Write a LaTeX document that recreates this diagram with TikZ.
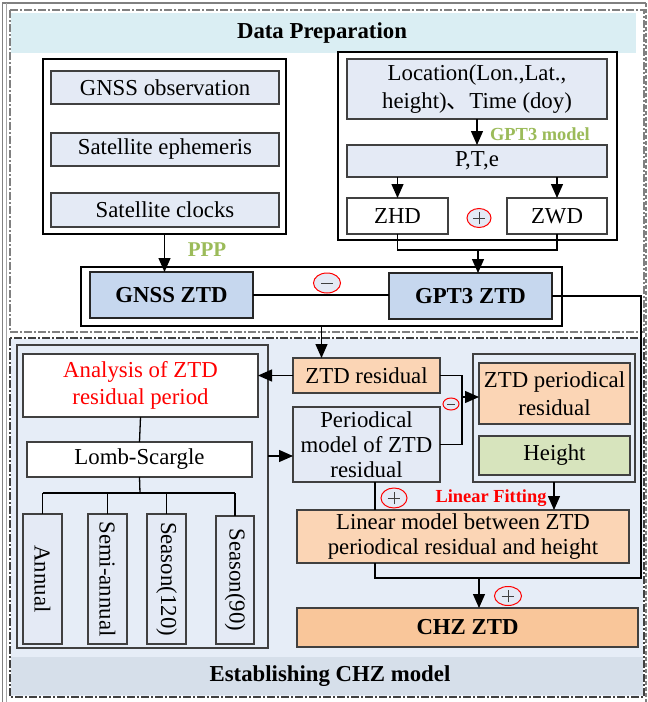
\documentclass[tikz,border=0pt]{standalone}
\usepackage{fontspec}
\setmainfont{Liberation Serif}
\newfontfamily\cjk{Noto Sans CJK SC}
\usetikzlibrary{arrows.meta,calc,shapes.geometric}
\definecolor{cyanband}{HTML}{DAEEF3}
\definecolor{secblue}{HTML}{E6EDF7}
\definecolor{bandgray}{HTML}{D6DFEA}
\definecolor{boxblue}{HTML}{E4EAF5}
\definecolor{ztdblue}{HTML}{C6D7EE}
\definecolor{peach}{HTML}{FBD5B5}
\definecolor{chzpeach}{HTML}{F9C69A}
\definecolor{hgreen}{HTML}{D7E4BD}
\definecolor{pgreen}{HTML}{9BBB59}
\definecolor{edge}{HTML}{404040}
\begin{document}
\begin{tikzpicture}[x=0.5pt,y=-0.5pt,
  every node/.style={inner sep=0pt,outer sep=0pt,align=center,font=\fontsize{11.4}{13}\selectfont},
  sz/.style 2 args={minimum width=#1*0.5pt,minimum height=#2*0.5pt},
  bbox/.style={draw=edge,line width=0.7pt,fill=boxblue},
  wbox/.style={draw=edge,line width=0.7pt,fill=white},
  pbox/.style={draw=edge,line width=0.7pt,fill=peach},
  zbox/.style={draw=black!85,line width=1.2pt,fill=ztdblue,font=\bfseries\fontsize{11.4}{13}\selectfont},
  panel/.style={draw=black,line width=0.7pt},
  conn/.style={line width=0.65pt,black},
  arr/.style={conn,-{Triangle[length=7pt,width=6pt]}},
  circ/.style={ellipse,draw=red,line width=0.5pt,fill=boxblue},
  plussign/.style={circ,path picture={
      \draw[edge,line width=0.5pt] ([xshift=-#1]path picture bounding box.center) -- ([xshift=#1]path picture bounding box.center);
      \draw[edge,line width=0.5pt] ([yshift=-#1]path picture bounding box.center) -- ([yshift=#1]path picture bounding box.center);}},
  minussign/.style={circ,path picture={
      \draw[edge,line width=0.5pt] ([xshift=-#1]path picture bounding box.center) -- ([xshift=#1]path picture bounding box.center);}},
  lab/.style={font=\bfseries\fontsize{9.2}{10}\selectfont},
  ddot/.style={line width=0.65pt,dash pattern=on 4pt off 1pt on 1pt off 1pt}
]
\useasboundingbox (0,0) rectangle (648,702);
% outer frame
\draw[gray,line width=0.8pt] (646,3) -- (2.5,3) -- (2.5,702);
\draw[gray!70,line width=0.5pt] (6,3) -- (6,702);
\draw[gray,line width=1pt,dash pattern=on 2pt off 1pt] (645.5,3) -- (645.5,702);
% data preparation section
\fill[cyanband] (11,13) rectangle (636,53);
\draw[ddot,gray] (10,10) rectangle (644,332);
\node (hdr1) at (322,33) {\bfseries Data Preparation};
% establishing section
\fill[secblue] (11,339) rectangle (643,696);
\fill[bandgray] (11,657) rectangle (643,695);
\draw[ddot,black!75] (10,338) rectangle (644,697);
\node (hdr2) at (330,676) {\bfseries Establishing CHZ model};

% top-left panel
\node[panel,fill=white,sz={243}{175}] (lp) at (164.5,146.5) {};
\node[bbox,sz={228}{33}] (obs) at (165,87.5) {GNSS observation};
\node[bbox,sz={228}{33}] (eph) at (165,149.5) {Satellite ephemeris};
\node[bbox,sz={228}{34}] (clk) at (165,210) {Satellite clocks};
% top-right panel
\node[panel,fill=white,sz={279}{188}] (rp) at (477.5,146) {};
\node[bbox,sz={260}{60},font=\fontsize{11.4}{14}\selectfont] (loc) at (477,89) {Location(Lon.,Lat.,\\height){\cjk 、}Time (doy)};
\node[bbox,sz={260}{32}] (pte) at (477,161) {P,T,e};
\node[wbox,sz={101}{36}] (zhd) at (397.5,216) {ZHD};
\node[wbox,sz={100}{36}] (zwd) at (557,216) {ZWD};
\node[plussign=3pt,sz={24}{19}] (pl1) at (479,218) {};
\node[lab,text=pgreen] (gptlab) at (540,134) {GPT3 model};
% ZTD container
\node[panel,fill=white,sz={481}{59}] (zc) at (321.5,296.5) {};
\node[zbox,sz={163}{46}] (gz) at (171.5,295) {GNSS ZTD};
\node[zbox,sz={163}{46}] (gp) at (470.5,296) {GPT3 ZTD};
\node[minussign=3pt,sz={27}{20}] (mi1) at (327,283) {};
\node[text=pgreen,font=\bfseries\fontsize{10.5}{11}\selectfont] (ppp) at (207,250) {PPP};

% bottom-left panel
\node[draw=edge,line width=0.7pt,sz={251}{303}] (lp2) at (142.5,496.5) {};
\node[wbox,sz={235}{63},text=red,font=\fontsize{11.4}{13.3}\selectfont] (ana) at (140.5,385.5) {Analysis of ZTD\\residual period};
\node[wbox,sz={225}{35}] (lomb) at (139.5,459.5) {Lomb-Scargle};
\node[bbox,sz={39}{130}] (an) at (42.5,579) {};
\node[bbox,sz={39}{130}] (sa) at (107.5,579) {};
\node[bbox,sz={39}{130}] (s1) at (166.5,579) {};
\node[bbox,sz={38}{128}] (s9) at (235,580) {};
\node[rotate=-90] (tan) at (an) {Annual};
\node[rotate=-90] (tsa) at (sa) {Semi-annual};
\node[rotate=-90] (ts1) at (s1) {Season(120)};
\node[rotate=-90] (ts9) at (s9) {Season(90)};
% bottom-right part
\node[pbox,sz={147}{35}] (zr) at (366.5,375.5) {ZTD residual};
\node[bbox,sz={147}{75},font=\fontsize{11.4}{12.5}\selectfont] (pm) at (366.5,444.5) {Periodical\\model of ZTD\\residual};
\node[draw=edge,line width=0.7pt,sz={162}{128}] (rp2) at (554,418) {};
\node[pbox,sz={151}{61},font=\fontsize{11.4}{14}\selectfont] (zp) at (554.5,393.5) {ZTD periodical\\residual};
\node[draw=edge,line width=0.7pt,fill=hgreen,sz={151}{39}] (ht) at (554.5,455.5) {Height};
\node[lab,text=red] (lf) at (491,498) {Linear Fitting};
\node[plussign=3.2pt,sz={26}{20}] (pl2) at (394,498) {};
\node[plussign=3.2pt,sz={27}{19}] (pl3) at (508,596) {};
\node[minussign=2pt,sz={16}{12}] (mi2) at (451,404) {};
\node[pbox,sz={332}{53},font=\fontsize{11.4}{12.8}\selectfont] (lm) at (463,536.5) {Linear model between ZTD\\periodical residual and height};
\node[draw=edge,line width=0.7pt,fill=chzpeach,sz={341}{39},font=\bfseries\fontsize{11.4}{13}\selectfont] (chz) at (467.5,627.5) {CHZ ZTD};

% connectors: top
\draw[arr] (lp.south) -- (lp.south |- gz.north);
\draw[arr] (loc.south) -- (pte.north);
\draw[arr] (zhd.north |- pte.south) -- (zhd.north);
\draw[arr] (zwd.north |- pte.south) -- (zwd.north);
\coordinate (j1) at (478,250);
\draw[conn] (zhd.south) -- (zhd.south |- j1) -- (zwd.south |- j1) -- (zwd.south);
\draw[arr] (j1) -- (j1 |- gp.north);
\draw[conn] (gz.east) -- (gz.east -| gp.west);
\coordinate (rc) at (641,578);
\coordinate (lb) at (375,578);
\draw[conn] (gp.east) -- (gp.east -| rc) -- (rc) -- (lb) -- (lb |- lm.south);
\coordinate (j2) at (479,578);
\draw[arr] (j2) -- (j2 |- chz.north);
% connectors: bottom
\draw[arr] (zc.south) -- (zc.south |- zr.north);
\draw[arr] (zr.west) -- (zr.west -| ana.east);
\coordinate (pmin) at (280,456);
\draw[arr] (lp2.east |- pmin) -- (pm.west |- pmin);
\draw[conn] (ana.south) -- (lomb.north);
\coordinate (j3) at (140,493);
\draw[conn] (lomb.south) -- (j3);
\draw[conn] (an.north |- j3) -- (s9.north |- j3);
\draw[conn] (an.north |- j3) -- (an.north);
\draw[conn] (sa.north |- j3) -- (sa.north);
\draw[conn] (s1.north |- j3) -- (s1.north);
\draw[conn] (s9.north |- j3) -- (s9.north);
\coordinate (j4) at (462,397);
\draw[conn] (zr.east) -- (zr.east -| j4) -- (pm.east -| j4) -- (pm.east);
\draw[arr] (j4) -- (j4 -| zp.west);
\draw[arr] (rp2.south) -- (rp2.south |- lm.north);
\draw[conn] (lb |- pm.south) -- (lb |- lm.north);
\end{tikzpicture}
\end{document}
